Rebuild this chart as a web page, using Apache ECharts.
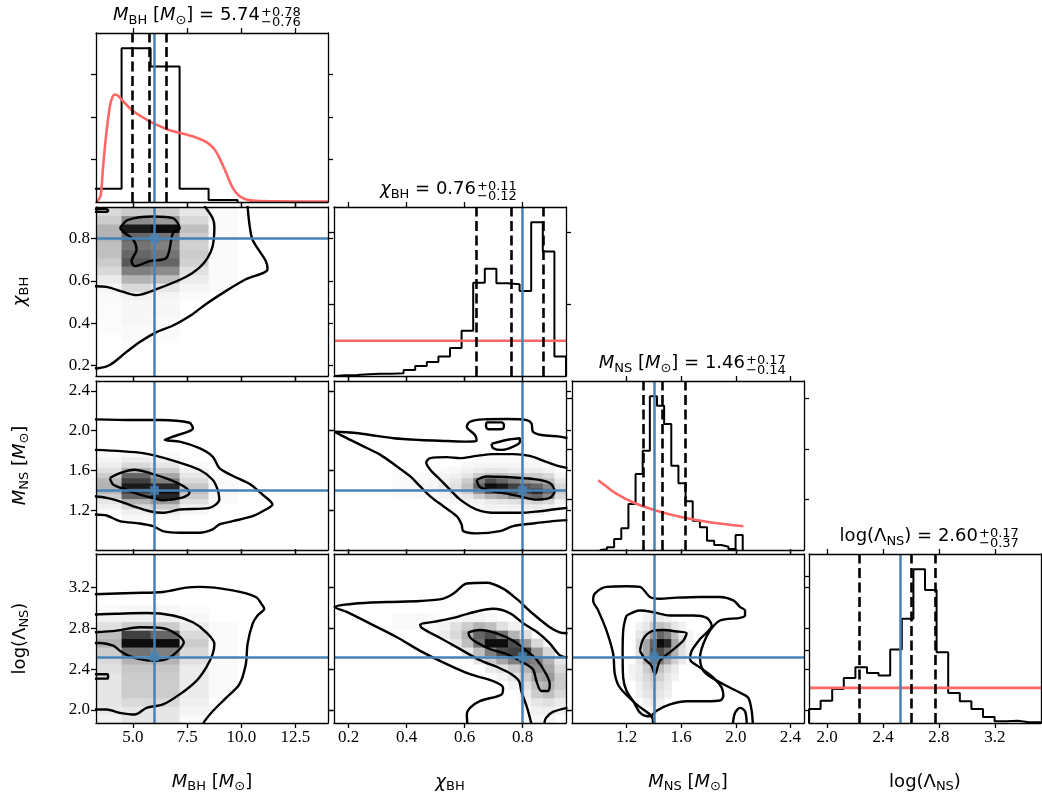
<!DOCTYPE html>
<html>
<head>
<meta charset="utf-8">
<script src="https://cdn.jsdelivr.net/npm/echarts@6/dist/echarts.min.js"></script>
<style>
  html, body { margin: 0; padding: 0; background: #fff; }
  #chart { width: 1042px; height: 800px; }
</style>
</head>
<body>
<div id="chart"></div>
<script>
// ---- parameter order: M_BH, chi_BH, M_NS, log(Lambda_NS) ----
const axisMin = [3.3, 0.15, 0.8, 1.87];
const axisMax = [14.0, 0.95, 2.5, 3.53];
const tickValues = [[5.0, 7.5, 10.0, 12.5], [0.2, 0.4, 0.6, 0.8], [1.2, 1.6, 2.0, 2.4], [2.0, 2.4, 2.8, 3.2]];
const truths = [6.0, 0.80, 1.40, 2.52];
const medians = [5.74, 0.76, 1.46, 2.60];
const errPlus = [0.78, 0.11, 0.17, 0.17];
const errMinus = [0.76, 0.12, 0.14, 0.37];

// ---- 1D posterior histograms (density per bin) ----
const binStart = [3.1425, 0.15, 1.004, 1.87];
const binWidth = [1.3375, 0.04, 0.05235, 0.083];
const histMbh = [0.031, 0.3615, 0.319, 0.031, 0.0047];
const histChi = [0.02, 0.03, 0.05, 0.06, 0.06, 0.075, 0.17, 0.28, 0.39, 0.54, 0.78, 1.26, 2.59, 2.98, 2.58, 2.55, 2.36, 4.27, 3.46, 0.54];
const histMns = [0.013, 0.053, 0.217, 0.429, 0.909, 1.502, 1.962, 3.037, 2.852, 2.490, 1.666, 1.318, 0.962, 0.579, 0.449, 0.184, 0.099, 0.065, 0.020, 0.296];
const histLam = [0.192, 0.305, 0.466, 0.616, 0.763, 0.685, 0.648, 1.004, 1.425, 2.10, 1.818, 0.968, 0.411, 0.297, 0.192, 0.082, 0.023, 0.032, 0.010, 0.010];
const histTicks = [[0.1, 0.2, 0.3], [2, 4], [1, 2, 3], [1, 2]];

// ---- prior densities ----
const priorMbh = [[3.30, 0.0], [3.36, 0.002], [3.51, 0.014], [3.63, 0.085], [3.78, 0.163], [3.94, 0.225], [4.06, 0.247], [4.17, 0.253], [4.32, 0.250], [4.55, 0.237], [5.01, 0.214], [5.63, 0.194], [6.08, 0.182], [6.70, 0.169], [7.46, 0.159], [8.07, 0.149], [8.45, 0.139], [8.76, 0.124], [8.99, 0.104], [9.30, 0.069], [9.60, 0.034], [9.91, 0.014], [10.29, 0.005], [10.83, 0.002], [14.0, 0.001]];
const priorChi = [[0.15, 0.98], [0.95, 0.98]];
const priorMns = [[0.992, 1.38], [1.06, 1.24], [1.127, 1.11], [1.249, 0.94], [1.42, 0.777], [1.591, 0.659], [1.787, 0.56], [2.056, 0.47]];
const priorLam = [[1.87, 0.48], [3.53, 0.48]];

// ---- 2D histogram cells: [x bin, first y bin, shades going up] ----
const cellsMbhChi = [
  [0, 5, [0.01, 0.01, 0.015, 0.015, 0.02, 0.04, 0.08, 0.15, 0.2, 0.25, 0.25, 0.3, 0.3, 0.2, 0.15]],
  [1, 4, [0.02, 0.02, 0.03, 0.03, 0.03, 0.05, 0.15, 0.3, 0.5, 0.65, 0.6, 0.55, 0.6, 0.9, 0.45, 0.2]],
  [2, 4, [0.015, 0.02, 0.02, 0.03, 0.03, 0.04, 0.1, 0.25, 0.45, 0.6, 0.55, 0.5, 0.55, 0.95, 0.4, 0.2]],
  [3, 9, [0.02, 0.04, 0.08, 0.12, 0.18, 0.2, 0.18, 0.2, 0.25, 0.15, 0.1]],
  [4, 10, [0.02, 0.02, 0.02, 0.02, 0.02, 0.02, 0.02, 0.02, 0.02, 0.02]]
];
const cellsMbhMns = [
  [0, 3, [0.02, 0.05, 0.1, 0.2, 0.3, 0.3, 0.28, 0.2, 0.12, 0.07, 0.04, 0.02]],
  [1, 2, [0.03, 0.06, 0.15, 0.3, 0.6, 0.75, 0.9, 0.75, 0.6, 0.3, 0.15, 0.07, 0.03]],
  [2, 2, [0.03, 0.08, 0.2, 0.4, 0.85, 0.95, 0.85, 0.5, 0.35, 0.2, 0.1, 0.05, 0.02]],
  [3, 3, [0.03, 0.06, 0.12, 0.2, 0.25, 0.22, 0.15, 0.1, 0.05, 0.02]],
  [4, 5, [0.02, 0.02, 0.03, 0.02, 0.02]]
];
const cellsMbhLam = [
  [0, 0, [0.05, 0.08, 0.1, 0.1, 0.1, 0.1, 0.12, 0.15, 0.2, 0.3, 0.25, 0.12, 0.05, 0.02]],
  [1, 0, [0.1, 0.1, 0.15, 0.2, 0.2, 0.2, 0.22, 0.3, 0.55, 0.95, 0.75, 0.2, 0.06, 0.03]],
  [2, 0, [0.1, 0.1, 0.15, 0.2, 0.2, 0.2, 0.22, 0.3, 0.5, 0.95, 0.6, 0.2, 0.06, 0.03]],
  [3, 0, [0.02, 0.04, 0.06, 0.08, 0.08, 0.08, 0.08, 0.12, 0.15, 0.2, 0.15, 0.08, 0.03, 0.01]],
  [4, 3, [0.02, 0.02, 0.02, 0.02, 0.02, 0.02, 0.02, 0.02, 0.02]]
];
const cellsChiMns = [
  [5, 6, [0.015, 0.015, 0.015, 0.015, 0.015]],
  [6, 6, [0.015, 0.02, 0.02, 0.02, 0.015]],
  [7, 6, [0.02, 0.02, 0.03, 0.02, 0.02]],
  [8, 6, [0.02, 0.03, 0.04, 0.03, 0.02]],
  [9, 5, [0.02, 0.04, 0.06, 0.08, 0.06, 0.04, 0.02]],
  [10, 5, [0.03, 0.06, 0.1, 0.12, 0.1, 0.06, 0.03]],
  [11, 4, [0.03, 0.05, 0.1, 0.2, 0.25, 0.2, 0.1, 0.05, 0.03]],
  [12, 3, [0.02, 0.04, 0.05, 0.2, 0.45, 0.6, 0.5, 0.2, 0.08, 0.04, 0.02]],
  [13, 3, [0.02, 0.05, 0.08, 0.3, 0.7, 0.95, 0.7, 0.25, 0.1, 0.04, 0.02]],
  [14, 3, [0.02, 0.05, 0.1, 0.35, 0.75, 0.9, 0.6, 0.25, 0.1, 0.04, 0.02]],
  [15, 3, [0.02, 0.06, 0.12, 0.45, 0.7, 0.75, 0.5, 0.22, 0.08, 0.04, 0.02]],
  [16, 3, [0.03, 0.07, 0.15, 0.55, 0.75, 0.65, 0.4, 0.2, 0.07, 0.03, 0.02]],
  [17, 3, [0.03, 0.08, 0.18, 0.6, 0.85, 0.6, 0.35, 0.2, 0.08, 0.03, 0.02]],
  [18, 3, [0.02, 0.06, 0.15, 0.45, 0.6, 0.45, 0.25, 0.15, 0.05, 0.02]],
  [19, 4, [0.02, 0.05, 0.15, 0.2, 0.15, 0.1, 0.04]]
];
const cellsChiLam = [
  [5, 11, [0.02, 0.02]], [6, 11, [0.02, 0.02]], [7, 11, [0.02, 0.03]], [8, 10, [0.03, 0.03, 0.02]],
  [9, 10, [0.08, 0.05]],
  [10, 9, [0.1, 0.15, 0.12, 0.03]],
  [11, 8, [0.1, 0.25, 0.3, 0.2, 0.05]],
  [12, 7, [0.1, 0.25, 0.55, 0.6, 0.3, 0.05]],
  [13, 6, [0.08, 0.2, 0.5, 0.95, 0.7, 0.25, 0.03]],
  [14, 5, [0.05, 0.12, 0.35, 0.7, 0.95, 0.55, 0.12]],
  [15, 4, [0.05, 0.1, 0.2, 0.5, 0.75, 0.7, 0.3, 0.05]],
  [16, 2, [0.05, 0.08, 0.12, 0.2, 0.3, 0.55, 0.8, 0.4, 0.12]],
  [17, 0, [0.03, 0.05, 0.1, 0.2, 0.25, 0.35, 0.45, 0.5, 0.4, 0.15]],
  [18, 0, [0.03, 0.06, 0.12, 0.25, 0.3, 0.4, 0.35, 0.3, 0.15]],
  [19, 1, [0.05, 0.08, 0.15, 0.2, 0.2, 0.15, 0.1]]
];
const cellsMnsLam = [
  [4, 5, [0.04, 0.05]],
  [5, 3, [0.05, 0.06, 0.08, 0.08, 0.1, 0.12, 0.15, 0.1, 0.05]],
  [6, 2, [0.05, 0.1, 0.12, 0.15, 0.2, 0.3, 0.35, 0.35, 0.2, 0.1, 0.05]],
  [7, 1, [0.04, 0.08, 0.12, 0.15, 0.2, 0.3, 0.55, 0.65, 0.6, 0.4, 0.2, 0.08]],
  [8, 2, [0.06, 0.1, 0.12, 0.18, 0.25, 0.5, 0.7, 0.95, 0.6, 0.25, 0.08]],
  [9, 3, [0.06, 0.08, 0.1, 0.15, 0.35, 0.55, 0.85, 0.5, 0.2, 0.05]],
  [10, 5, [0.05, 0.08, 0.18, 0.3, 0.35, 0.25, 0.1]],
  [11, 7, [0.08, 0.12, 0.15, 0.1, 0.05]],
  [12, 8, [0.05, 0.05, 0.04]]
];

// ---- credible-region contour lines ----
const contMbhChi = [
  [[4.40, 0.850], [4.78, 0.889], [5.93, 0.905], [6.85, 0.897], [7.16, 0.850], [6.85, 0.827], [6.55, 0.709], [5.78, 0.694], [5.09, 0.670], [4.94, 0.694], [5.17, 0.748], [5.02, 0.795], [4.63, 0.827], [4.40, 0.850]],
  [[8.30, 0.955], [8.38, 0.944], [8.68, 0.897], [8.76, 0.858], [8.68, 0.764], [8.45, 0.709], [8.07, 0.663], [7.46, 0.620], [6.09, 0.561], [5.17, 0.533], [4.55, 0.548], [3.79, 0.572], [3.25, 0.575]],
  [[3.25, 0.940], [3.75, 0.942], [3.86, 0.932], [3.78, 0.927], [3.25, 0.927]],
  [[10.29, 0.955], [10.37, 0.874], [10.52, 0.795], [11.13, 0.694], [11.21, 0.655], [10.21, 0.608], [9.30, 0.553], [8.38, 0.491], [7.77, 0.444], [6.85, 0.389], [6.09, 0.358], [5.32, 0.311], [4.71, 0.264], [3.94, 0.202], [3.40, 0.187], [3.25, 0.187]]
];
const contMbhMns = [
  [[3.94, 1.524], [4.40, 1.574], [5.09, 1.607], [5.78, 1.574], [6.70, 1.507], [7.46, 1.424], [7.61, 1.374], [7.23, 1.324], [6.39, 1.30], [5.93, 1.324], [5.32, 1.357], [4.71, 1.407], [4.10, 1.457], [3.94, 1.524]],
  [[3.25, 1.807], [5.47, 1.774], [6.85, 1.70], [8.07, 1.607], [8.68, 1.507], [8.91, 1.407], [8.99, 1.307], [8.53, 1.224], [7.16, 1.207], [6.39, 1.174], [5.78, 1.19], [5.02, 1.24], [4.40, 1.29], [3.79, 1.324], [3.25, 1.34]],
  [[3.25, 2.114], [5.02, 2.107], [6.24, 2.107], [7.61, 2.08], [7.77, 2.024], [6.85, 1.94], [6.47, 1.907], [7.16, 1.89], [8.07, 1.824], [8.68, 1.74], [8.99, 1.624], [9.60, 1.547], [10.44, 1.457], [10.98, 1.357], [11.44, 1.257], [11.13, 1.207], [10.52, 1.14], [9.60, 1.09], [8.99, 1.057], [8.68, 1.007], [8.07, 0.974], [7.16, 0.974], [6.39, 0.99], [5.93, 1.04], [5.32, 1.067], [4.40, 1.09], [3.79, 1.147], [3.25, 1.157]]
];
const contMbhLam = [
  [[3.25, 2.761], [4.25, 2.777], [5.32, 2.811], [6.39, 2.801], [7.0, 2.745], [7.35, 2.662], [7.08, 2.579], [6.55, 2.497], [5.93, 2.48], [5.32, 2.497], [4.71, 2.54], [4.40, 2.579], [4.10, 2.629], [3.49, 2.656], [3.25, 2.656]],
  [[3.25, 2.349], [3.82, 2.349], [3.86, 2.327], [3.82, 2.306], [3.25, 2.306]],
  [[3.25, 2.936], [4.25, 2.943], [5.63, 2.95], [6.85, 2.926], [7.77, 2.86], [8.38, 2.761], [8.76, 2.646], [8.68, 2.547], [8.38, 2.415], [7.92, 2.282], [7.16, 2.151], [6.39, 2.052], [5.63, 2.019], [5.09, 1.953], [4.40, 1.97], [3.79, 2.002], [3.25, 2.002]],
  [[3.25, 3.134], [5.02, 3.147], [6.39, 3.157], [7.46, 3.2], [8.07, 3.207], [9.60, 3.173], [10.67, 3.108], [10.98, 3.025], [11.06, 2.992], [10.75, 2.926], [10.52, 2.844], [10.29, 2.646], [10.21, 2.448], [9.91, 2.249], [9.30, 2.117], [8.68, 1.985], [8.30, 1.886], [8.25, 1.86]]
];
const contChiMns = [
  [[0.642, 1.507], [0.676, 1.54], [0.745, 1.534], [0.836, 1.514], [0.894, 1.474], [0.911, 1.39], [0.894, 1.324], [0.848, 1.307], [0.791, 1.34], [0.745, 1.367], [0.699, 1.39], [0.653, 1.434], [0.642, 1.507]],
  [[0.955, 1.624], [0.911, 1.657], [0.871, 1.70], [0.825, 1.747], [0.768, 1.764], [0.699, 1.764], [0.642, 1.747], [0.585, 1.724], [0.539, 1.734], [0.482, 1.724], [0.468, 1.68], [0.482, 1.607], [0.516, 1.507], [0.550, 1.407], [0.585, 1.307], [0.642, 1.207], [0.711, 1.174], [0.791, 1.174], [0.859, 1.19], [0.905, 1.207], [0.955, 1.224]],
  [[0.955, 1.924], [0.928, 1.94], [0.865, 1.957], [0.836, 1.99], [0.831, 2.074], [0.814, 2.107], [0.745, 2.117], [0.665, 2.114], [0.619, 2.09], [0.608, 2.04], [0.636, 1.957], [0.642, 1.90], [0.608, 1.89], [0.539, 1.897], [0.447, 1.907], [0.356, 1.924], [0.276, 1.957], [0.218, 1.98], [0.152, 1.99], [0.184, 1.94], [0.241, 1.857], [0.31, 1.757], [0.367, 1.64], [0.413, 1.54], [0.447, 1.44], [0.482, 1.34], [0.527, 1.24], [0.573, 1.14], [0.59, 1.057], [0.596, 0.99], [0.642, 0.967], [0.722, 0.99], [0.768, 1.04], [0.836, 1.067], [0.905, 1.09], [0.955, 1.10]],
  [[0.676, 2.084], [0.728, 2.084], [0.736, 2.057], [0.731, 2.017], [0.682, 2.014], [0.674, 2.047], [0.676, 2.084]],
  [[0.693, 1.867], [0.745, 1.907], [0.791, 1.924], [0.791, 1.89], [0.768, 1.84], [0.728, 1.807], [0.699, 1.824], [0.693, 1.867]]
];
const contChiLam = [
  [[0.613, 2.761], [0.653, 2.784], [0.711, 2.751], [0.768, 2.678], [0.814, 2.579], [0.848, 2.497], [0.882, 2.349], [0.894, 2.25], [0.888, 2.184], [0.865, 2.184], [0.848, 2.282], [0.836, 2.398], [0.802, 2.464], [0.745, 2.547], [0.688, 2.596], [0.642, 2.662], [0.619, 2.712], [0.613, 2.761]],
  [[0.831, 1.86], [0.816, 2.019], [0.796, 2.184], [0.788, 2.282], [0.762, 2.349], [0.722, 2.408], [0.653, 2.487], [0.585, 2.596], [0.516, 2.705], [0.453, 2.804], [0.447, 2.837], [0.493, 2.863], [0.562, 2.903], [0.619, 2.95], [0.699, 2.992], [0.756, 2.95], [0.802, 2.85], [0.848, 2.768], [0.894, 2.652], [0.928, 2.537], [0.955, 2.514]],
  [[0.955, 2.019], [0.905, 1.979], [0.881, 1.92], [0.875, 1.86]],
  [[0.955, 2.751], [0.928, 2.761], [0.894, 2.811], [0.836, 2.943], [0.779, 3.091], [0.733, 3.19], [0.676, 3.247], [0.608, 3.24], [0.562, 3.141], [0.527, 3.091], [0.447, 3.068], [0.333, 3.058], [0.218, 3.042], [0.152, 3.009], [0.196, 2.959], [0.276, 2.844], [0.367, 2.712], [0.447, 2.579], [0.539, 2.448], [0.619, 2.349], [0.699, 2.282], [0.733, 2.217], [0.728, 2.151], [0.653, 2.085], [0.619, 2.019], [0.608, 1.953], [0.61, 1.86]]
];
const contMnsLam = [
  [[1.298, 2.579], [1.322, 2.695], [1.383, 2.771], [1.469, 2.784], [1.555, 2.771], [1.64, 2.751], [1.615, 2.678], [1.53, 2.579], [1.444, 2.48], [1.408, 2.349], [1.383, 2.431], [1.335, 2.497], [1.298, 2.579]],
  [[1.20, 2.926], [1.298, 2.975], [1.395, 2.959], [1.518, 2.926], [1.689, 2.926], [1.787, 2.903], [1.824, 2.827], [1.738, 2.695], [1.677, 2.579], [1.665, 2.497], [1.738, 2.415], [1.836, 2.316], [1.897, 2.217], [1.909, 2.134], [1.885, 2.091], [1.787, 2.084], [1.64, 2.084], [1.518, 2.052], [1.42, 1.99], [1.37, 1.935], [1.30, 1.97], [1.249, 2.084], [1.20, 2.184], [1.175, 2.316], [1.171, 2.547], [1.175, 2.777], [1.188, 2.877], [1.20, 2.926]],
  [[1.395, 1.86], [1.383, 1.936], [1.273, 2.052], [1.151, 2.217], [1.114, 2.349], [1.102, 2.547], [1.053, 2.777], [0.992, 2.975], [0.955, 3.074], [0.967, 3.141], [1.053, 3.207], [1.20, 3.213], [1.298, 3.207], [1.371, 3.108], [1.444, 3.091], [1.565, 3.101], [1.738, 3.108], [1.885, 3.108], [1.982, 3.074], [2.032, 3.009], [2.068, 2.975], [2.068, 2.926], [2.032, 2.903], [1.885, 2.877], [1.811, 2.777], [1.762, 2.646], [1.738, 2.514], [1.75, 2.415], [1.787, 2.349], [1.909, 2.25], [2.032, 2.167], [2.092, 2.117], [2.117, 1.985], [2.125, 1.86]],
  [[1.978, 1.86], [1.995, 1.97], [2.032, 2.019], [2.068, 1.985], [2.081, 1.86]]
];

// ---- layout of the corner grid (pixels) ----
const PANEL_LEFT = [96, 334, 572, 809];
const PANEL_TOP = [33, 207, 381, 554];
const PANEL_W = 232, PANEL_H = 169;
const TITLE_SHIFT = [48, 26, 57, 53];

const BLUE = '#4682b4';
const RED = '#ff6666';
const SANS = 'DejaVu Sans';
const SERIF = 'Liberation Serif';

const hists = [histMbh, histChi, histMns, histLam];
const priors = [priorMbh, priorChi, priorMns, priorLam];

const panels2d = [
  { r: 1, c: 0, cells: cellsMbhChi, contours: contMbhChi },
  { r: 2, c: 0, cells: cellsMbhMns, contours: contMbhMns },
  { r: 3, c: 0, cells: cellsMbhLam, contours: contMbhLam },
  { r: 2, c: 1, cells: cellsChiMns, contours: contChiMns },
  { r: 3, c: 1, cells: cellsChiLam, contours: contChiLam },
  { r: 3, c: 2, cells: cellsMnsLam, contours: contMnsLam }
];

const grids = [], xAxes = [], yAxes = [], series = [];

function makeAxis(gridIndex, position, ext, ticks, showLabel) {
  return {
    type: 'value', gridIndex, position, min: ext[0], max: ext[1], z: 6,
    axisLine: { show: true, onZero: false, lineStyle: { color: '#000', width: 1.3 } },
    axisTick: { show: true, inside: false, length: 5, customValues: ticks, lineStyle: { color: '#000', width: 1.3 } },
    axisLabel: {
      show: showLabel, customValues: ticks, margin: 6, color: '#000',
      fontFamily: SERIF, fontSize: 17, formatter: v => Number(v).toFixed(1)
    },
    splitLine: { show: false }, splitArea: { show: false }, axisPointer: { show: false }
  };
}

function addPanel(r, c) {
  const g = grids.length;
  grids.push({ left: PANEL_LEFT[c], top: PANEL_TOP[r], width: PANEL_W, height: PANEL_H, containLabel: false, outerBoundsMode: 'none' });
  const isHist = r === c;
  const xExt = [axisMin[c], axisMax[c]];
  const yExt = isHist ? [0, 1.1 * Math.max(...hists[c])] : [axisMin[r], axisMax[r]];
  const yTicks = isHist ? histTicks[c] : tickValues[r];
  xAxes.push(makeAxis(g, 'bottom', xExt, tickValues[c], r === 3));
  xAxes.push(makeAxis(g, 'top', xExt, tickValues[c], false));
  yAxes.push(makeAxis(g, 'left', yExt, yTicks, !isHist && c === 0));
  yAxes.push(makeAxis(g, 'right', yExt, yTicks, false));
  return 2 * g;
}

// step outline of a histogram: the line runs along each bin top
function stepOutline(lo, w, dens) {
  const pts = [[lo, 0]];
  dens.forEach((v, i) => pts.push([lo + i * w, v]));
  const hi = lo + dens.length * w;
  pts.push([hi, dens[dens.length - 1]]);
  pts.push([hi, 0]);
  return pts;
}

// rectangles [x0, x1, y0, y1, shade] for the 2D histogram cells
function cellRects(cols, xv, yv) {
  const out = [];
  cols.forEach(([xi, yi0, vals]) => vals.forEach((v, k) => {
    const yi = yi0 + k;
    out.push([binStart[xv] + xi * binWidth[xv], binStart[xv] + (xi + 1) * binWidth[xv],
              binStart[yv] + yi * binWidth[yv], binStart[yv] + (yi + 1) * binWidth[yv], v]);
  }));
  return out;
}

const dashStyle = { type: [10, 4.5], color: '#000', width: 2.6 };

// 1D marginal panels on the diagonal
for (let c = 0; c < 4; c++) {
  const ai = addPanel(c, c);
  series.push({
    type: 'line', xAxisIndex: ai, yAxisIndex: ai, data: stepOutline(binStart[c], binWidth[c], hists[c]),
    step: 'end', symbol: 'none', silent: true, z: 2,
    lineStyle: { color: '#000', width: 2 },
    markLine: {
      silent: true, symbol: ['none', 'none'], label: { show: false }, emphasis: { disabled: true },
      data: [
        { xAxis: medians[c] - errMinus[c], lineStyle: dashStyle },
        { xAxis: medians[c], lineStyle: dashStyle },
        { xAxis: medians[c] + errPlus[c], lineStyle: dashStyle },
        { xAxis: truths[c], lineStyle: { type: 'solid', color: BLUE, width: 2.5 } }
      ]
    }
  });
  series.push({
    type: 'line', xAxisIndex: ai, yAxisIndex: ai, data: priors[c], smooth: 0.3,
    symbol: 'none', silent: true, z: 3, lineStyle: { color: RED, width: 2.6 }
  });
}

// 2D joint panels below the diagonal
panels2d.forEach(p => {
  const ai = addPanel(p.r, p.c);
  series.push({
    type: 'custom', xAxisIndex: ai, yAxisIndex: ai, silent: true, z: 1,
    encode: { x: [0, 1], y: [2, 3] },
    data: cellRects(p.cells, p.c, p.r),
    renderItem: (params, api) => {
      const a = api.coord([api.value(0), api.value(3)]);
      const b = api.coord([api.value(1), api.value(2)]);
      const cs = params.coordSys;
      const shape = echarts.graphic.clipRectByRect(
        { x: a[0], y: a[1], width: b[0] - a[0] + 0.6, height: b[1] - a[1] + 0.6 },
        { x: cs.x, y: cs.y, width: cs.width, height: cs.height });
      if (!shape) return null;
      const g = Math.round(255 * (1 - api.value(4)));
      return { type: 'rect', shape, style: { fill: `rgb(${g},${g},${g})` } };
    }
  });
  p.contours.forEach(line => series.push({
    type: 'line', xAxisIndex: ai, yAxisIndex: ai, data: line, smooth: 0.3,
    symbol: 'none', silent: true, z: 2, lineStyle: { color: '#000', width: 2.4 }
  }));
  series.push({
    type: 'scatter', xAxisIndex: ai, yAxisIndex: ai, data: [[truths[p.c], truths[p.r]]],
    symbol: 'rect', symbolSize: 9, itemStyle: { color: BLUE }, silent: true, z: 5,
    markLine: {
      silent: true, symbol: ['none', 'none'], label: { show: false }, emphasis: { disabled: true },
      lineStyle: { type: 'solid', color: BLUE, width: 2.5 },
      data: [{ xAxis: truths[p.c] }, { yAxis: truths[p.r] }]
    }
  });
});

// ---- text: marginal titles and axis names ----
const mainRich = {
  i: { fontStyle: 'italic', fontFamily: SANS, fontSize: 18, verticalAlign: 'middle' },
  s: { fontFamily: SANS, fontSize: 13, padding: [10, 0, 0, 0], verticalAlign: 'middle' }
};
const nameRich = {
  i: { fontStyle: 'italic', fontFamily: SANS, fontSize: 18, verticalAlign: 'middle' },
  s: { fontFamily: SANS, fontSize: 13, padding: [10, 0, 0, 0], verticalAlign: 'middle' }
};
const labels = [
  '{i|M}{s|BH} [{i|M}{s|⊙}]',
  '{i|χ}{s|BH}',
  '{i|M}{s|NS} [{i|M}{s|⊙}]',
  'log(Λ{s|NS})'
];

const graphics = [];
for (let c = 0; c < 4; c++) {
  const center = PANEL_LEFT[c] + PANEL_W / 2;
  const jx = center + TITLE_SHIFT[c];
  const ty = PANEL_TOP[c] - 17.5;
  graphics.push({
    type: 'text', x: jx, y: ty, silent: true,
    style: { text: labels[c] + ' = ' + medians[c].toFixed(2), rich: mainRich, fontFamily: SANS, fontSize: 18, fill: '#000', align: 'right', verticalAlign: 'middle' }
  });
  graphics.push({
    type: 'text', x: jx + 1, y: ty - 3, silent: true,
    style: { text: '+' + errPlus[c].toFixed(2), fontFamily: SANS, fontSize: 13, fill: '#000', align: 'left', verticalAlign: 'middle' }
  });
  graphics.push({
    type: 'text', x: jx + 1, y: ty + 7.5, silent: true,
    style: { text: '\u2212' + errMinus[c].toFixed(2), fontFamily: SANS, fontSize: 13, fill: '#000', align: 'left', verticalAlign: 'middle' }
  });
  // x-axis names under the bottom row
  graphics.push({
    type: 'text', x: center, y: 782, silent: true,
    style: { text: labels[c], rich: nameRich, fontFamily: SANS, fontSize: 18, fill: '#000', align: 'center', verticalAlign: 'middle' }
  });
}
// y-axis names beside the first column
for (let r = 1; r < 4; r++) {
  graphics.push({
    type: 'text', x: 20, y: PANEL_TOP[r] + PANEL_H / 2, rotation: Math.PI / 2, silent: true,
    style: { text: labels[r], rich: nameRich, fontFamily: SANS, fontSize: 18, fill: '#000', align: 'center', verticalAlign: 'middle' }
  });
}

const chart = echarts.init(document.getElementById('chart'), null, { renderer: 'canvas' });
chart.setOption({
  animation: false,
  backgroundColor: '#fff',
  grid: grids,
  xAxis: xAxes,
  yAxis: yAxes,
  series: series,
  graphic: { elements: graphics }
});
</script>
</body>
</html>
